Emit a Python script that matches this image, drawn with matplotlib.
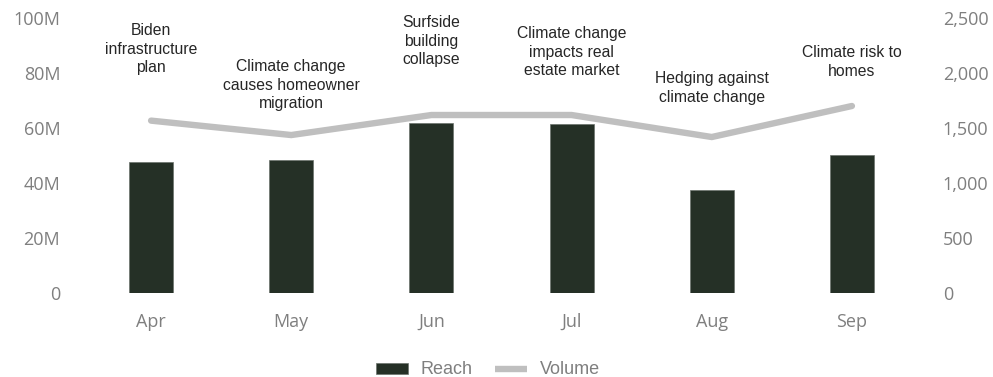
import matplotlib
matplotlib.use("Agg")
import matplotlib.pyplot as plt
from matplotlib.ticker import FuncFormatter

months = ["Apr", "May", "Jun", "Jul", "Aug", "Sep"]
reach_m = [47.6, 48.4, 62.0, 61.3, 37.5, 50.2]          # millions
volume = [1567, 1436, 1618, 1618, 1418, 1700]
events = [
    "Biden\ninfrastructure\nplan",
    "Climate change\ncauses homeowner\nmigration",
    "Surfside\nbuilding\ncollapse",
    "Climate change\nimpacts real\nestate market",
    "Hedging against\nclimate change",
    "Climate risk to\nhomes",
]
left_ticks = [0, 20, 40, 60, 80, 100]
right_ticks = [0, 500, 1000, 1500, 2000, 2500]

# annotation top positions (axes fraction)
event_y = [0.982, 0.851, 1.011, 0.971, 0.807, 0.902]

BAR = "#253026"
LINE = "#BFBFBF"
TICK = "#7F7F7F"

fig = plt.figure(figsize=(9.93, 3.77), dpi=100)
ax = fig.add_axes([81/993, 1-293/377, (922-81)/993, (293-18)/377])
ax2 = ax.twinx()

x = list(range(len(months)))
ax.bar(x, reach_m, width=0.315, color=BAR, edgecolor="#6b736c", linewidth=0.5, zorder=2, label="Reach")
ax2.plot(x, volume, color=LINE, linewidth=4.6, solid_capstyle="round", solid_joinstyle="miter", label="Volume", zorder=3)

ax.set_xlim(-0.5, len(months) - 0.5)
ax.set_ylim(0, 100)
ax2.set_ylim(0, 2500)
ax.set_yticks(left_ticks)
ax.yaxis.set_major_formatter(FuncFormatter(lambda v, p: "0" if v == 0 else f"{int(v)}M"))
ax2.set_yticks(right_ticks)
ax2.yaxis.set_major_formatter(FuncFormatter(lambda v, p: f"{int(v):,}"))
ax.set_xticks(x)
ax.set_xticklabels(months)

for a in (ax, ax2):
    for s in a.spines.values():
        s.set_visible(False)
    a.tick_params(length=0, colors=TICK, labelsize=13)
    for lbl in a.get_yticklabels() + a.get_xticklabels():
        lbl.set_fontfamily("Open Sans")
ax.tick_params(axis="y", pad=15)
ax2.tick_params(axis="y", pad=15)
ax.tick_params(axis="x", pad=14.5)

ax.set_zorder(0)
ax2.set_zorder(1)
ax2.patch.set_visible(False)

for xi, txt, ty in zip(x, events, event_y):
    ax.annotate(txt, xy=(xi, ty), xycoords=("data", "axes fraction"),
                ha="center", va="top", fontsize=11.3, family="Liberation Sans",
                color="#262626", linespacing=1.3, annotation_clip=False, zorder=5)

h1, l1 = ax.get_legend_handles_labels()
h2, l2 = ax2.get_legend_handles_labels()
leg = fig.legend(h1 + h2, l1 + l2, loc="center", bbox_to_anchor=(488/993, 1-370/377),
                 ncol=2, frameon=False, handlelength=1.77, handleheight=0.55,
                 handletextpad=0.67, columnspacing=1.28,
                 prop={"family": "Liberation Sans", "size": 13})
for t in leg.get_texts():
    t.set_color(TICK)
leg.legend_handles[1].set_solid_capstyle("butt")

fig.savefig("out.png", dpi=100)
